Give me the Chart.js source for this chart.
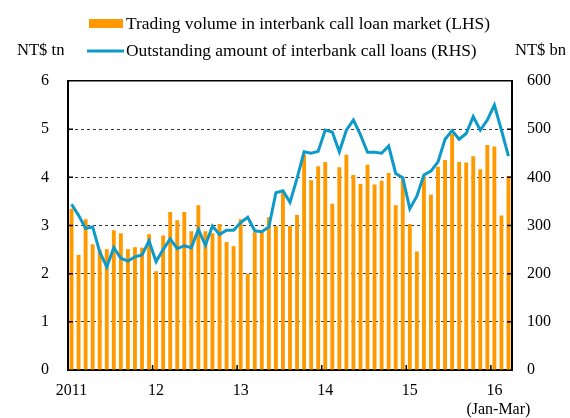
<!DOCTYPE html>
<html>
<head>
<meta charset="utf-8">
<script src="https://cdn.jsdelivr.net/npm/chart.js@4.4.1/dist/chart.umd.min.js"></script>
<style>
  html, body { margin: 0; padding: 0; background: #fff; }
  canvas { display: block; }
</style>
</head>
<body>
<canvas id="chart" width="570" height="418"></canvas>
<script>
// monthly, Jan 2011 - Mar 2016
var months = [];
for (var y = 2011; y <= 2016; y++) {
  for (var m = 1; m <= 12; m++) {
    if (y === 2016 && m > 3) break;
    months.push(y + '-' + (m < 10 ? '0' + m : m));
  }
}

var yearLabels = ['2011', '12', '13', '14', '15', ['16', '  (Jan-Mar)']];

// NT$ tn (LHS)
var tradingVolume = [
  3.35, 2.39, 3.13, 2.61, 2.50, 2.51, 2.90, 2.84, 2.51, 2.55, 2.54, 2.82,
  2.05, 2.79, 3.28, 3.11, 3.28, 2.88, 3.42, 2.88, 2.84, 3.03, 2.66, 2.57,
  3.13, 2.00, 2.86, 2.86, 3.17, 2.99, 3.69, 2.99, 3.22, 4.47, 3.94, 4.23,
  4.32, 3.45, 4.21, 4.47, 4.05, 3.86, 4.26, 3.85, 3.93, 4.09, 3.42, 3.97,
  3.03, 2.46, 4.01, 3.64, 4.22, 4.36, 4.90, 4.32, 4.31, 4.44, 4.17, 4.67,
  4.64, 3.21, 4.03
];

// NT$ bn (RHS)
var outstanding = [
  344, 321, 294, 297, 245, 214, 254, 232, 226, 235, 239, 268,
  225, 250, 272, 252, 258, 254, 292, 259, 299, 281, 290, 290,
  306, 317, 289, 287, 297, 368, 372, 348, 398, 453, 450, 454,
  498, 494, 453, 498, 519, 488, 452, 452, 450, 465, 408, 399,
  335, 361, 405, 413, 432, 479, 497, 479, 491, 526, 498, 519,
  550, 498, 444
];

var orange = '#FF9900';
var blue = '#0E9AC8';
var family = '"Liberation Serif", "Times New Roman", serif';

Chart.defaults.font = { family: family, size: 16 };
Chart.defaults.color = '#000';

// legend, unit titles and the inward tick marks
var extras = {
  id: 'extras',
  afterDraw: function(chart) {
    var ctx = chart.ctx;
    var area = chart.chartArea;
    var sx = chart.scales.x, yl = chart.scales.y, yr = chart.scales.y1;
    ctx.save();
    ctx.textBaseline = 'middle';
    ctx.textAlign = 'left';

    ctx.font = '17.4px ' + family;
    ctx.fillStyle = orange;
    ctx.fillRect(89, 19, 34, 9);
    ctx.fillStyle = '#000';
    ctx.fillText('Trading volume in interbank call loan market (LHS)', 126, 24);

    ctx.strokeStyle = blue;
    ctx.lineWidth = 3;
    ctx.beginPath();
    ctx.moveTo(87, 51);
    ctx.lineTo(124, 51);
    ctx.stroke();
    ctx.fillText('Outstanding amount of interbank call loans (RHS)', 126, 51);

    ctx.font = '16.6px ' + family;
    ctx.fillText('NT$ tn', 17, 51);
    ctx.fillText('NT$ bn', 515, 51);

    ctx.strokeStyle = '#000';
    ctx.lineWidth = 1.5;
    ctx.beginPath();
    for (var v = 1; v <= 5; v++) {
      var py = yl.getPixelForValue(v);
      ctx.moveTo(area.left, py); ctx.lineTo(area.left + 5, py);
      var pr = yr.getPixelForValue(v * 100);
      ctx.moveTo(area.right, pr); ctx.lineTo(area.right - 5, pr);
    }
    for (var i = 12; i < months.length; i += 12) {
      var px = (sx.getPixelForValue(i - 1) + sx.getPixelForValue(i)) / 2;
      ctx.moveTo(px, area.bottom); ctx.lineTo(px, area.bottom - 5);
    }
    ctx.stroke();
    ctx.restore();
  }
};

var chart = new Chart(document.getElementById('chart').getContext('2d'), {
  data: {
    labels: months,
    datasets: [{
      type: 'line',
      label: 'Outstanding amount of interbank call loans (RHS)',
      data: outstanding,
      yAxisID: 'y1',
      borderColor: blue,
      borderWidth: 3,
      pointRadius: 0,
      tension: 0,
      order: 1
    }, {
      type: 'bar',
      label: 'Trading volume in interbank call loan market (LHS)',
      data: tradingVolume,
      yAxisID: 'y',
      backgroundColor: orange,
      barPercentage: 0.55,
      categoryPercentage: 1,
      order: 2
    }]
  },
  options: {
    responsive: false,
    animation: false,
    layout: { padding: { top: 81, left: 0, right: 0, bottom: 0 } },
    plugins: { legend: { display: false }, tooltip: { enabled: false } },
    scales: {
      x: {
        offset: true,
        grid: { display: false, drawTicks: false },
        border: { display: true, color: '#000', width: 2 },
        ticks: {
          autoSkip: false,
          maxRotation: 0,
          padding: 11,
          callback: function(v, i) { return i % 12 === 0 ? yearLabels[i / 12] : ''; }
        },
        afterFit: function(s) { s.height = 48; }
      },
      y: {
        position: 'left',
        min: 0, max: 6,
        ticks: { stepSize: 1, padding: 19 },
        grid: {
          drawTicks: false,
          color: function(c) {
            if (!c.tick) return '#333';
            if (c.tick.value === 0) return 'rgba(0,0,0,0)';
            return c.tick.value === 6 ? '#000' : '#333';
          },
          lineWidth: function(c) { return c.tick && c.tick.value === 6 ? 1.5 : 1; }
        },
        border: {
          display: true, color: '#000', width: 2,
          dash: function(c) { return c.tick && c.tick.value === 6 ? [] : [3, 3]; }
        },
        afterFit: function(s) { s.width = 68; }
      },
      y1: {
        position: 'right',
        min: 0, max: 600,
        ticks: { stepSize: 100, padding: 15 },
        grid: { display: false, drawTicks: false },
        border: { display: true, color: '#000', width: 2 },
        afterFit: function(s) { s.width = 58; }
      }
    }
  },
  plugins: [extras]
});
</script>
</body>
</html>
